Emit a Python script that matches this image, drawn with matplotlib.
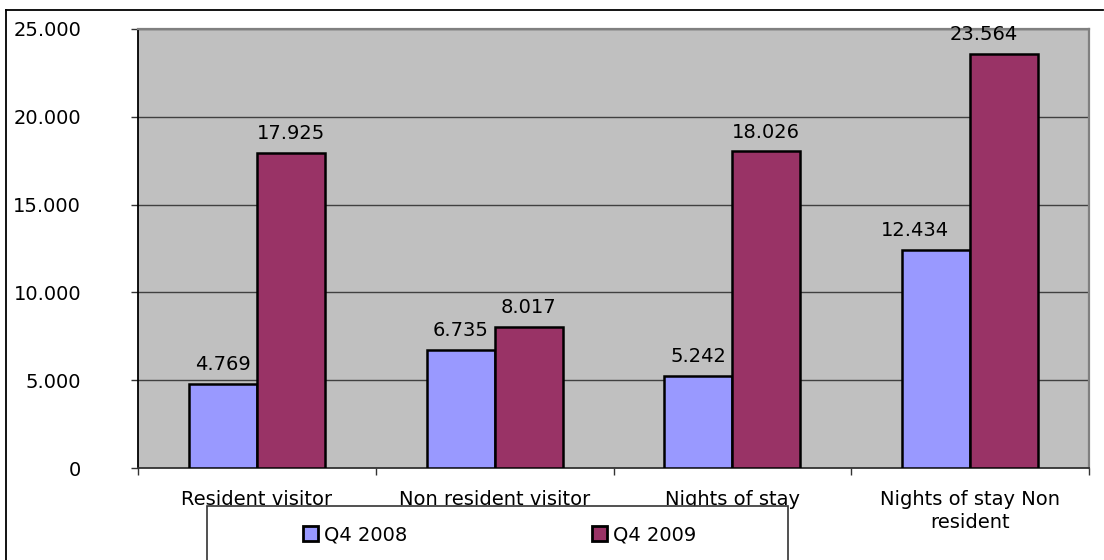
import numpy as np
import matplotlib
matplotlib.use("Agg")
import matplotlib.pyplot as plt
from matplotlib.patches import Rectangle
from matplotlib.lines import Line2D

# data
categories = ["Resident visitor", "Non resident visitor", "Nights of stay",
              "Nights of stay Non\nresident"]
q4_2008 = [4769, 6735, 5242, 12434]
q4_2009 = [17925, 8017, 18026, 23564]
series_names = ["Q4 2008", "Q4 2009"]
y_ticks = [0, 5000, 10000, 15000, 20000, 25000]
y_tick_labels = ["0", "5.000", "10.000", "15.000", "20.000", "25.000"]

c_2008 = "#9999FF"
c_2009 = "#993366"
c_plot = "#C0C0C0"

plt.rcParams["font.family"] = ["DejaVu Sans"]
fs = 14

W, H = 1104, 560
fig = plt.figure(figsize=(W / 100, H / 100), dpi=100, facecolor="white")

# plot area in pixels: left 138, right 1089, top 29, bottom 468
ax = fig.add_axes([138 / W, (H - 468) / H, (1089 - 138) / W, (468 - 29) / H])
ax.set_facecolor(c_plot)

x = np.arange(len(categories))
bw = 0.286
b1 = ax.bar(x - bw / 2, q4_2008, bw, color=c_2008, edgecolor="black",
            linewidth=1.8, label=series_names[0], zorder=3)
b2 = ax.bar(x + bw / 2, q4_2009, bw, color=c_2009, edgecolor="black",
            linewidth=1.8, label=series_names[1], zorder=3)

ax.set_xlim(-0.5, len(categories) - 0.5)
ax.set_ylim(0, 25000)
ax.set_yticks(y_ticks)
ax.set_yticklabels(y_tick_labels, fontsize=fs)
ax.yaxis.grid(True, color="#404040", linewidth=1.0, zorder=1)
ax.set_axisbelow(True)

# category labels centred, ticks on the category boundaries
ax.set_xticks(x)
ax.set_xticklabels(categories, fontsize=fs, linespacing=1.25)
ax.tick_params(axis="x", length=0, pad=16)
ax.set_xticks(np.arange(len(categories) + 1) - 0.5, minor=True)
ax.tick_params(axis="x", which="minor", length=5, width=1, color="#333333",
               direction="out")
ax.tick_params(axis="y", length=5, width=1, color="#333333", pad=36)

ax.spines["left"].set_color("black")
ax.spines["left"].set_linewidth(1.3)
ax.spines["bottom"].set_color("#333333")
ax.spines["bottom"].set_linewidth(1.3)
for s in ["top", "right"]:
    ax.spines[s].set_color("#808080")
    ax.spines[s].set_linewidth(1.6)

# value labels
def fmt(v):
    return f"{v:,}".replace(",", ".")

for i, (r1, r2) in enumerate(zip(b1, b2)):
    dx = -15 if i == len(categories) - 1 else 0
    for r, v in ((r1, q4_2008[i]), (r2, q4_2009[i])):
        ax.annotate(fmt(v), (r.get_x() + r.get_width() / 2, v),
                    xytext=(dx, 10), textcoords="offset points",
                    ha="center", va="baseline", fontsize=fs, zorder=4)

# legend box (runs off the bottom of the image)
fig.patches.append(Rectangle((207 / W, -0.1), (788 - 207) / W,
                             (H - 506) / H + 0.1, transform=fig.transFigure,
                             facecolor="white", edgecolor="#333333",
                             linewidth=1.2, zorder=5))
leg = fig.legend(handles=[b1, b2], labels=series_names, loc="center left",
                 bbox_to_anchor=(303 / W, (H - 535) / H), ncol=2,
                 frameon=False, fontsize=fs, handlelength=0.78,
                 handleheight=0.78, handletextpad=0.3, columnspacing=9.5,
                 borderpad=0, borderaxespad=0)
leg.set_zorder(6)
for h in leg.legend_handles:
    h.set_linewidth(2)

# outer chart border
fig.add_artist(Line2D([6 / W, 1103 / W], [(H - 10) / H, (H - 10) / H],
                      transform=fig.transFigure, color="black", linewidth=1.3))
fig.add_artist(Line2D([6 / W, 6 / W], [(H - 10) / H, 0],
                      transform=fig.transFigure, color="black", linewidth=1.3))

fig.savefig("out.png", dpi=100, facecolor="white")
